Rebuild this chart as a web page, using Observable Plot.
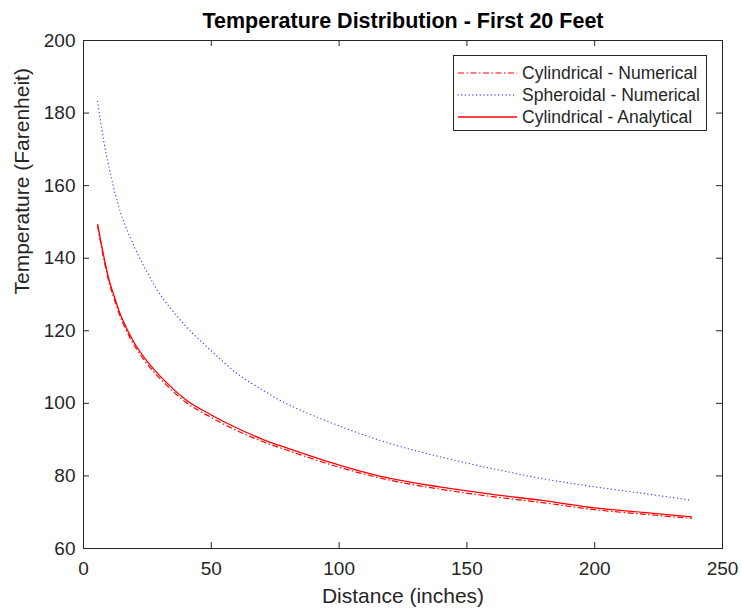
<!DOCTYPE html>
<html>
<head>
<meta charset="utf-8">
<script src="https://cdn.jsdelivr.net/npm/d3@7"></script>
<script src="https://cdn.jsdelivr.net/npm/@observablehq/plot@0.6"></script>
<style>
  html, body { margin: 0; padding: 0; background: white; }
  #chart { width: 742px; height: 610px; }
</style>
</head>
<body>
<div id="chart"></div>
<script>
// ---- data ----
const distance = [5.5, 8, 10, 12, 15, 20, 25, 30, 40, 50, 60, 70, 80, 100, 120, 140, 160, 180, 200, 220, 238];
const cylNumerical = [149.0, 139.6, 133.3, 128.8, 122.8, 115.8, 110.8, 106.8, 100.3, 96.1, 92.5, 89.5, 87.0, 82.4, 78.8, 76.3, 74.3, 72.6, 70.7, 69.4, 68.3];
const sphNumerical = [183.2, 172.0, 165.0, 159.0, 151.5, 143.0, 136.0, 130.0, 121.3, 114.5, 108.3, 103.7, 99.7, 93.8, 88.9, 85.2, 82.0, 79.2, 77.0, 75.1, 73.3];
const cylAnalytical = [149.4, 140.3, 134.0, 129.5, 123.5, 116.5, 111.5, 107.5, 101.0, 96.8, 93.2, 90.1, 87.6, 83.0, 79.3, 76.9, 74.9, 73.2, 71.2, 69.9, 68.7];
const xTicks = [0, 50, 100, 150, 200, 250];
const yTicks = [60, 80, 100, 120, 140, 160, 180, 200];
const seriesNames = ["Cylindrical - Numerical", "Spheroidal - Numerical", "Cylindrical - Analytical"];
const titleText = "Temperature Distribution - First 20 Feet";
const xLabel = "Distance (inches)";
const yLabel = "Temperature (Farenheit)";

const styles = [
  {stroke: "#ff0000", strokeWidth: 1.2, dash: "6,2.5,1.5,2.5", cap: "butt"},
  {stroke: "#4444ff", strokeWidth: 1.3, dash: "0.1,3.6", cap: "round"},
  {stroke: "#ff0000", strokeWidth: 1.3, dash: null, cap: "butt"}
];

const rows = (ys) => distance.map((d, i) => ({x: d, y: ys[i]}));
const series = [rows(cylNumerical), rows(sphNumerical), rows(cylAnalytical)];

const W = 742, H = 610, mL = 83, mR = 20, mT = 40, mB = 62;
const fw = W - mL - mR, fh = H - mT - mB;
const tickLen = 6;
const ink = "#262626";

const lineMark = (data, s) => Plot.line(data, {
  x: "x", y: "y", curve: "catmull-rom", stroke: s.stroke, strokeWidth: s.strokeWidth,
  strokeDasharray: s.dash || undefined, strokeLinecap: s.cap
});

const plot = Plot.plot({
  width: W, height: H,
  marginLeft: mL, marginRight: mR, marginTop: mT, marginBottom: mB,
  style: {fontFamily: "'Liberation Sans', Arial, sans-serif", color: ink, background: "white", overflow: "visible"},
  x: {domain: [0, 250], axis: null},
  y: {domain: [60, 200], axis: null},
  marks: [
    lineMark(series[2], styles[2]),
    lineMark(series[0], styles[0]),
    lineMark(series[1], styles[1]),
    Plot.frame({stroke: ink, strokeWidth: 1}),
    Plot.tickX(xTicks, {x: d => d, stroke: ink, insetTop: fh - tickLen}),
    Plot.tickX(xTicks, {x: d => d, stroke: ink, insetBottom: fh - tickLen}),
    Plot.tickY(yTicks, {y: d => d, stroke: ink, insetRight: fw - tickLen}),
    Plot.tickY(yTicks, {y: d => d, stroke: ink, insetLeft: fw - tickLen}),
    Plot.axisX(xTicks, {anchor: "bottom", tickSize: 0, tickPadding: 13, fontSize: 19, label: null, fill: ink, tickFormat: d => String(d)}),
    Plot.axisY(yTicks, {anchor: "left", tickSize: 0, tickPadding: 8, fontSize: 19, label: null, fill: ink, tickFormat: d => String(d)}),
    Plot.text([xLabel], {frameAnchor: "bottom", dy: 48, fontSize: 21, fill: ink, lineAnchor: "middle"}),
    Plot.text([yLabel], {frameAnchor: "left", dx: -61, rotate: -90, fontSize: 21, fill: ink, lineAnchor: "middle"}),
    Plot.text([titleText], {frameAnchor: "top", dy: -19, fontSize: 21.5, fontWeight: "bold", fill: "black", lineAnchor: "middle"})
  ]
});

document.getElementById("chart").appendChild(plot);

// legend (box in the upper-right of the axes)
const svg = d3.select(plot);
const lg = svg.append("g")
  .attr("font-family", "'Liberation Sans', Arial, sans-serif")
  .attr("font-size", 17.5)
  .attr("text-anchor", "start");
lg.append("rect").attr("x", 453.5).attr("y", 55.5).attr("width", 253).attr("height", 75)
  .attr("fill", "white").attr("stroke", ink).attr("stroke-width", 1);
seriesNames.forEach((name, i) => {
  const y = 73 + i * 22;
  const s = styles[i];
  lg.append("line").attr("x1", 458).attr("x2", 517).attr("y1", y).attr("y2", y)
    .attr("stroke", s.stroke).attr("stroke-width", s.strokeWidth)
    .attr("stroke-linecap", s.cap)
    .attr("stroke-dasharray", s.dash);
  lg.append("text").attr("x", 522).attr("y", y).attr("dy", "0.35em")
    .attr("text-anchor", "start").attr("fill", ink).text(name);
});
</script>
</body>
</html>
